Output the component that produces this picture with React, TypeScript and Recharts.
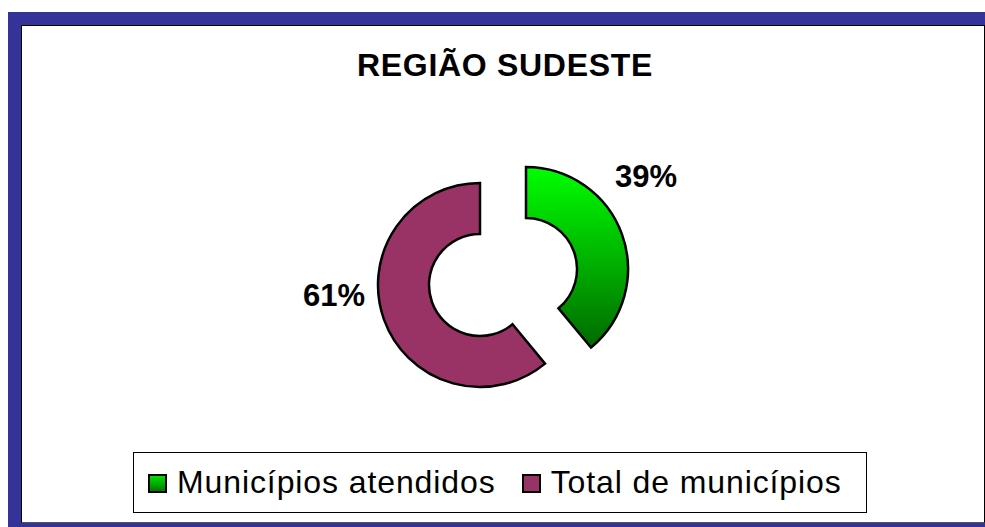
import { Cell, Legend, Pie, PieChart } from 'recharts'

// slice data
const SLICE_NAMES = ['Municípios atendidos', 'Total de municípios']
const SLICE_VALUES = [39, 61]
const SLICE_FILLS = ['url(#greenGrad)', '#993366']
const LEGEND_SWATCH = ['linear-gradient(#00e000, #007a00)', '#993366']

// exploded slice centres and label offsets (layout only)
const PIE_CENTERS = [
  { cx: 526, cy: 269 },
  { cx: 480, cy: 285 },
]
const LABEL_OFFSETS = [
  { dx: 120, dy: -82 },
  { dx: -146, dy: 21 },
]

const FONT = '"Liberation Sans", Arial, sans-serif'

const data = SLICE_NAMES.map((name, i) => ({ name, value: SLICE_VALUES[i] }))

function makeLabel(slice: number) {
  return (p: any) => {
    if (p.index !== slice) return null
    const off = LABEL_OFFSETS[slice]
    return (
      <text
        x={p.cx + off.dx}
        y={p.cy + off.dy}
        textAnchor="middle"
        fontFamily={FONT}
        fontWeight="bold"
        fontSize={31}
        fill="#000"
      >
        {`${Math.round(p.percent * 100)}%`}
      </text>
    )
  }
}

function LegendBox({ payload }: any) {
  const seen = new Set<string>()
  const items = (payload ?? []).filter((e: any) => {
    if (e.type === 'none' || seen.has(e.value)) return false
    seen.add(e.value)
    return true
  })
  return (
    <div
      style={{
        width: 734,
        height: 61,
        boxSizing: 'border-box',
        border: '1px solid #000',
        background: '#fff',
        display: 'flex',
        alignItems: 'center',
        paddingLeft: 14,
        fontFamily: FONT,
        fontSize: 32,
        letterSpacing: 0.9,
        color: '#000',
      }}
    >
      {items.map((e: any, i: number) => {
        const idx = SLICE_NAMES.indexOf(e.value)
        return (
          <span
            key={e.value}
            style={{ display: 'flex', alignItems: 'center', marginLeft: i === 0 ? 0 : 26 }}
          >
            <span
              style={{
                width: 15,
                height: 15,
                border: '2px solid #000',
                background: LEGEND_SWATCH[idx],
                marginRight: 10,
                marginTop: 2,
              }}
            />
            {e.value}
          </span>
        )
      })}
    </div>
  )
}

export default function App() {
  return (
    <div style={{ position: 'absolute', left: 0, top: 0, width: 985, height: 527, background: '#fff' }}>
      {/* navy frame */}
      <div style={{ position: 'absolute', left: 8, top: 12, width: 977, height: 515, background: '#333399' }} />
      <div
        style={{
          position: 'absolute',
          left: 21,
          top: 25,
          width: 964,
          height: 498,
          boxSizing: 'border-box',
          background: '#fff',
          border: '1px solid #000',
          borderBottomColor: '#555',
        }}
      />

      <div
        style={{
          position: 'absolute',
          left: 205,
          top: 49,
          width: 600,
          textAlign: 'center',
          fontFamily: FONT,
          fontWeight: 'bold',
          fontSize: 32,
          lineHeight: '32px',
          letterSpacing: 0.7,
          color: '#000',
        }}
      >
        REGIÃO SUDESTE
      </div>

      <div style={{ position: 'absolute', left: 0, top: 0 }}>
        <PieChart width={985} height={527} margin={{ top: 0, right: 0, bottom: 0, left: 0 }}>
          <defs>
            <linearGradient id="greenGrad" x1="0" y1="0" x2="0" y2="1">
              <stop offset="0%" stopColor="#00ff00" />
              <stop offset="100%" stopColor="#006a00" />
            </linearGradient>
          </defs>
          {PIE_CENTERS.map((c, i) => (
            <Pie
              key={i}
              data={data}
              dataKey="value"
              nameKey="name"
              cx={c.cx}
              cy={c.cy}
              innerRadius={51}
              outerRadius={102}
              startAngle={90}
              endAngle={-270}
              stroke="#000"
              strokeWidth={2.5}
              labelLine={false}
              label={makeLabel(i)}
              legendType={i === 0 ? 'square' : 'none'}
              isAnimationActive={false}
            >
              {data.map((_, j) => (
                <Cell
                  key={j}
                  fill={j === i ? SLICE_FILLS[j] : 'transparent'}
                  stroke={j === i ? '#000' : 'none'}
                />
              ))}
            </Pie>
          ))}
          <Legend
            verticalAlign="bottom"
            content={<LegendBox />}
            wrapperStyle={{ left: 133, top: 452, bottom: 'auto', width: 734 }}
          />
        </PieChart>
      </div>
    </div>
  )
}
